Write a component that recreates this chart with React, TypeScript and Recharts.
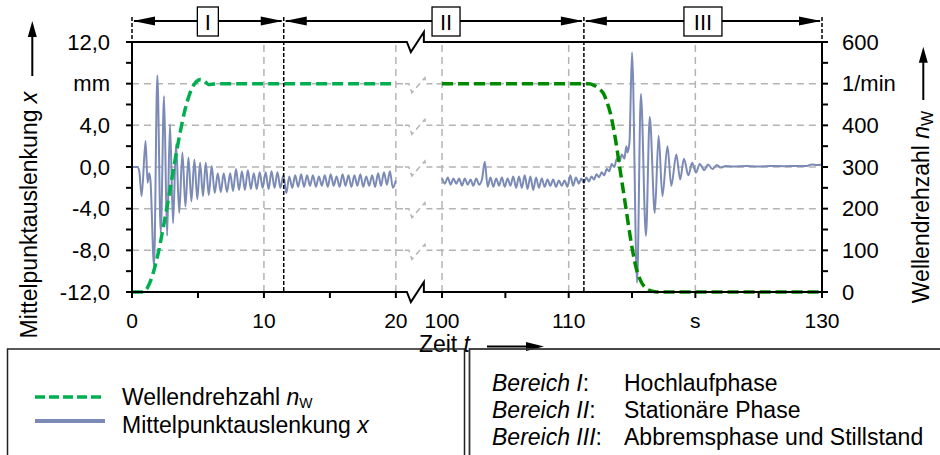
import React from "react";
import { ComposedChart, Line, XAxis, YAxis, ReferenceLine } from "recharts";

const FONT = "Arial, 'Liberation Sans', sans-serif";
const BLUE = "#7b8bb6";
const GREEN_1 = "#00b050";
const GREEN_2 = "#008a00";
const GRID = "#b4b4b4";

// broken time axis: 0..20 s, then 100..130 s
const BREAK_FROM = 20;
const BREAK_TO = 100;
const GAP_U = 3.5;
const SEG2_K = 0.96;
const toU = (t: number) => (t <= BREAK_FROM ? t : BREAK_FROM + GAP_U + (t - BREAK_TO) * SEG2_K);
const U_MAX = toU(130);

// Wellendrehzahl n_W in 1/min
const N1_T = [0, 0.8, 1.2, 1.6, 2.0, 2.4, 2.8, 3.2, 3.6, 4.0, 4.4, 4.8, 5.2, 5.5, 5.8, 6.2, 6.8, 20];
const N1_V = [0, 0, 12, 45, 95, 160, 230, 305, 375, 435, 478, 502, 510, 506, 498, 499, 500, 500];
const N2_T = [100, 111.6, 112.0, 112.4, 112.75, 113.0, 113.3, 113.7, 114.1, 114.5, 114.9, 115.3, 115.65, 116.1, 116.6, 117.0, 130];
const N2_V = [500, 500, 496, 488, 476, 458, 428, 365, 285, 205, 125, 61, 29, 9, 2, 0, 0];

// Mittelpunktauslenkung x in mm – run-up transient
const X1_T = [0, 0.4, 0.55, 0.73, 1.03, 1.18, 1.3, 1.4, 1.67, 1.92, 2.18, 2.43, 2.66, 2.88, 3.11, 3.34, 3.58, 3.82, 4.05, 4.28, 4.5, 4.73, 4.95, 5.16, 5.38, 5.59, 5.82, 6.04, 6.27, 6.5, 6.73, 6.95, 7.2, 7.44];
const X1_V = [0, 0, -0.4, -2.8, 2.5, -1.5, -0.6, -1.3, -9.5, 8.8, -6.3, 6.8, -6.6, 4.1, -5.4, 2.2, -4.4, 1.4, -3.8, 0.9, -3.3, 0.7, -3.1, 0.4, -2.8, 0.4, -2.7, 0.1, -2.5, -0.6, -2.4, -0.6, -2.4, -0.6];
// steady oscillation, sampled at every half period
const X1_STEADY_T0 = 7.66;
const X1_STEADY_DT = 0.2243;
const X1_STEADY = [
  -2.3, -0.2, -2.2, -0.4, -2.2, -0.3, -2.1, -0.6, -2.1, -0.5,
  -2.0, -0.5, -2.1, -0.4, -2.0, -0.5, -2.0, -0.8, -2.5, -0.9,
  -2.0, -0.8, -1.9, -0.7, -1.9, -0.8, -1.8, -0.8, -1.9, -0.9,
  -1.8, -0.8, -1.9, -0.7, -1.8, -0.9, -1.9, -0.7, -1.8, -0.8,
  -1.9, -0.8, -1.8, -0.7, -1.9, -0.9, -1.8, -0.8, -1.9, -0.6,
  -1.8, -0.5, -1.7, -0.4, -2.0, -1.3,
];
const X2_STEADY_T0 = 100;
const X2_STEADY_DT = 0.225;
const X2_STEADY = [
  -1.1, -1.6, -1.0, -1.7, -1.1, -1.6, -1.1, -1.8, -1.1, -1.7,
  -1.2, -1.8, -1.1, -1.7, -1.2, 0.5, -1.9, -1.0, -1.9, -1.1,
  -1.8, -1.0, -1.9, -1.1, -1.8, -0.9, -2.0, -0.9, -2.0, -0.8,
  -2.1, -0.9, -2.2, -1.0, -2.0, -1.1, -1.9, -1.2, -1.8, -1.2,
  -1.9, -1.3, -1.8, -1.3, -1.9, -0.8, -1.8, -1.0, -1.6,
];
// braking transient and standstill
const X3_T = [111.0, 111.2, 111.4, 111.6, 111.8, 112.0, 112.2, 112.4, 112.6, 112.8, 113.0, 113.2, 113.4, 113.6, 113.8, 114.0, 114.2, 114.4, 114.55, 114.65, 114.8, 115.0, 115.4, 115.7, 116.1, 116.4, 116.8, 117.1, 117.4, 117.8, 118.1, 118.5, 118.8, 119.1, 119.45, 119.75, 120.05, 120.35, 120.7, 121.0, 121.35, 121.7, 122.0, 122.4, 123.0, 124.0, 125.0, 126.0, 127.0, 128.0, 128.8, 129.2, 129.6, 130.0];
const X3_V = [-1.1, -1.5, -1.0, -1.4, -0.9, -1.2, -0.7, -1.0, -0.5, -0.8, -0.2, -0.4, 0.3, 0.0, 0.8, 0.5, 1.2, 0.8, 2.0, 1.4, 2.4, 11.0, -11.1, 7.0, -6.6, 4.8, -4.4, 3.0, -2.8, 2.0, -1.8, 1.2, -1.2, 0.8, -0.8, 0.4, -0.55, 0.3, -0.3, 0.25, -0.2, 0.2, -0.05, 0.1, 0.05, 0.1, 0.05, 0.1, 0.08, 0.1, 0.1, 0.25, 0.2, 0.25];

const X_TICKS_T = [0, 5, 10, 15, 20, 100, 105, 110, 115, 120, 125, 130];
const X_TICK_LABELS = ["0", "", "10", "", "20", "100", "", "110", "", "s", "", "130"];
const Y_LEFT_TICKS = [-12, -10, -8, -6, -4, -2, 0, 2, 4, 6, 8, 10, 12];
const Y_LEFT_LABELS = ["-12,0", "", "-8,0", "", "-4,0", "", "0,0", "", "4,0", "", "mm", "", "12,0"];
const Y_RIGHT_TICKS = [0, 50, 100, 150, 200, 250, 300, 350, 400, 450, 500, 550, 600];
const Y_RIGHT_LABELS = ["0", "", "100", "", "200", "", "300", "", "400", "", "1/min", "", "600"];
const GRID_X_T = [10, 20, 100, 110, 120];
const GRID_Y = [8, 4, 0, -4, -8];

const PHASE_T = [0, 11.5, 111.2, 130];
const PHASE_LABELS = ["I", "II", "III"];
const PHASE_NAMES = ["Bereich I", "Bereich II", "Bereich III"];
const PHASE_DESC = ["Hochlaufphase", "Stationäre Phase", "Abbremsphase und Stillstand"];

const n1Data = N1_T.map((t, i) => ({ u: toU(t), n: N1_V[i] }));
const n2Data = N2_T.map((t, i) => ({ u: toU(t), n: N2_V[i] }));
const x1Data = [
  ...X1_T.map((t, i) => ({ u: toU(t), x: X1_V[i] })),
  ...X1_STEADY.map((v, i) => ({ u: toU(X1_STEADY_T0 + i * X1_STEADY_DT), x: v })),
];
const x2Data = [
  ...X2_STEADY.map((v, i) => ({ u: toU(X2_STEADY_T0 + i * X2_STEADY_DT), x: v })),
  ...X3_T.map((t, i) => ({ u: toU(t), x: X3_V[i] })),
];

// layout
const W = 940;
const X_AXIS_H = 50;
const PLOT_LEFT = 132;
const PLOT_TOP = 42;
const PLOT_W = 690;
const PLOT_H = 250;
const BOTTOM = PLOT_TOP + PLOT_H;
const RIGHT = PLOT_LEFT + PLOT_W;
const CHART_H = BOTTOM + X_AXIS_H;
const px = (t: number) => PLOT_LEFT + (toU(t) / U_MAX) * PLOT_W;
const py = (v: number) => PLOT_TOP + ((12 - v) / 24) * PLOT_H;
const uAt = (x: number) => ((x - PLOT_LEFT) / PLOT_W) * U_MAX;
const BRK = px(BREAK_FROM) + 11;

const tickStyle = { fill: "#000", fontSize: 22, fontFamily: FONT };
const axisStroke = { stroke: "#000", strokeWidth: 2 };

function Decorations() {
  const axisBreak = (y: number) =>
    `M${PLOT_LEFT - 1},${y} H${BRK} L${BRK + 4},${y + 10} L${BRK + 17},${y - 10} L${BRK + 17},${y} H${RIGHT + 1}`;
  const gridBreak = (y: number) =>
    `M${BRK - 2},${y} H${BRK + 2} L${BRK + 5},${y + 9} L${BRK + 18},${y - 6} L${BRK + 19},${y} H${BRK + 30}`;
  const arrowY = 21;
  const head = (x: number, dir: number) =>
    `${x},${arrowY} ${x - dir * 22},${arrowY - 4.5} ${x - dir * 22},${arrowY + 4.5}`;
  const bx = PHASE_T.map(px);
  const boxCenters = [(bx[0] + bx[1]) / 2, px(BREAK_TO) + 4, (bx[2] + bx[3]) / 2];
  const boxWidths = [21, 28, 38];
  return (
    <svg width={W} height={455} style={{ position: "absolute", left: 0, top: 0, pointerEvents: "none" }} fontFamily={FONT}>
      <path d={axisBreak(PLOT_TOP)} fill="none" stroke="#000" strokeWidth={2} />
      <path d={axisBreak(BOTTOM)} fill="none" stroke="#000" strokeWidth={2} />
      {GRID_Y.map((v) => (
        <path key={v} d={gridBreak(py(v))} fill="none" stroke={GRID} strokeWidth={1.5} strokeDasharray="6 4" />
      ))}

      {bx.map((x, i) => (
        <line key={i} x1={x} x2={x} y1={17} y2={i === 0 || i === 3 ? PLOT_TOP : BOTTOM}
          stroke="#000" strokeWidth={1.5} strokeDasharray="4 2" />
      ))}
      {PHASE_LABELS.map((lab, i) => (
        <g key={lab}>
          <line x1={bx[i] + 2} x2={bx[i + 1] - 2} y1={arrowY} y2={arrowY} stroke="#000" strokeWidth={2} />
          <polygon points={head(bx[i] + 1, -1)} fill="#000" />
          <polygon points={head(bx[i + 1] - 1, 1)} fill="#000" />
          <rect x={boxCenters[i] - boxWidths[i] / 2} y={7} width={boxWidths[i]} height={29} fill="#fff" stroke="#000" strokeWidth={1.3} />
          <text x={boxCenters[i]} y={29.5} textAnchor="middle" fontSize={22}>{lab}</text>
        </g>
      ))}

      <text transform="translate(37,215) rotate(-90)" textAnchor="middle" fontSize={23}>
        Mittelpunktauslenkung <tspan fontStyle="italic">x</tspan>
      </text>
      <line x1={32.3} x2={32.3} y1={76} y2={34} stroke="#000" strokeWidth={2} />
      <polygon points="32.3,21 27.8,37 36.8,37" fill="#000" />

      <text transform="translate(929,207) rotate(-90)" textAnchor="middle" fontSize={23}>
        Wellendrehzahl <tspan fontStyle="italic">n</tspan>
        <tspan dy={4} fontSize={16}>W</tspan>
      </text>
      <line x1={923.3} x2={923.3} y1={100} y2={60} stroke="#000" strokeWidth={2} />
      <polygon points="923.3,46.7 918.8,62.7 927.8,62.7" fill="#000" />

      <text x={470} y={352} textAnchor="end" fontSize={23}>
        Zeit <tspan fontStyle="italic">t</tspan>
      </text>
      <line x1={487} x2={528} y1={346.5} y2={346.5} stroke="#000" strokeWidth={2} />
      <polygon points="544,346.5 526,342 526,351" fill="#000" />

      <rect x={7.5} y={349} width={457} height={120} fill="none" stroke="#222" strokeWidth={1.5} />
      <rect x={469.5} y={349} width={475} height={120} fill="none" stroke="#333" strokeWidth={1.8} />

      <line x1={35} x2={105} y1={397} y2={397} stroke={GREEN_1} strokeWidth={3.5} strokeDasharray="10 4" />
      <text x={122} y={405} fontSize={23}>
        Wellendrehzahl <tspan fontStyle="italic">n</tspan>
        <tspan dy={3} fontSize={14}>W</tspan>
      </text>
      <line x1={35} x2={105} y1={421} y2={421} stroke={BLUE} strokeWidth={4} />
      <text x={122} y={433} fontSize={23}>
        Mittelpunktauslenkung <tspan fontStyle="italic">x</tspan>
      </text>

      {PHASE_NAMES.map((name, i) => (
        <g key={name}>
          <text x={492} y={391 + i * 27} fontSize={23}>
            <tspan fontStyle="italic">{name}</tspan>:
          </text>
          <text x={624} y={391 + i * 27} fontSize={23}>{PHASE_DESC[i]}</text>
        </g>
      ))}
    </svg>
  );
}

export default function App() {
  const seg1End = uAt(BRK - 2);
  const seg2Start = uAt(BRK + 30);
  return (
    <div style={{ position: "absolute", left: 0, top: 0, width: W, height: 455, background: "#fff", fontFamily: FONT }}>
      <ComposedChart width={W} height={CHART_H} margin={{ top: PLOT_TOP, right: 0, bottom: 0, left: 0 }}>
        <XAxis
          type="number"
          dataKey="u"
          domain={[0, U_MAX]}
          allowDataOverflow
          ticks={X_TICKS_T.map(toU)}
          interval={0}
          tickFormatter={(v: number) => X_TICK_LABELS[X_TICKS_T.findIndex((t) => Math.abs(toU(t) - v) < 1e-6)] ?? ""}
          axisLine={false}
          tickLine={axisStroke}
          tickSize={6}
          tickMargin={15}
          height={X_AXIS_H}
          tick={{ ...tickStyle, fontSize: 21 }}
        />
        <YAxis
          yAxisId="x"
          type="number"
          domain={[-12, 12]}
          ticks={Y_LEFT_TICKS}
          interval={0}
          tickFormatter={(v: number) => Y_LEFT_LABELS[Y_LEFT_TICKS.indexOf(v)] ?? ""}
          width={PLOT_LEFT}
          axisLine={axisStroke}
          tickLine={axisStroke}
          tickSize={6}
          tickMargin={16}
          tick={tickStyle}
        />
        <YAxis
          yAxisId="n"
          orientation="right"
          type="number"
          domain={[0, 600]}
          ticks={Y_RIGHT_TICKS}
          interval={0}
          tickFormatter={(v: number) => Y_RIGHT_LABELS[Y_RIGHT_TICKS.indexOf(v)] ?? ""}
          width={W - RIGHT}
          axisLine={axisStroke}
          tickLine={axisStroke}
          tickSize={6}
          tickMargin={14}
          tick={tickStyle}
        />
        {GRID_X_T.map((t) => (
          <ReferenceLine key={`gx${t}`} yAxisId="x" x={toU(t)} stroke={GRID} strokeWidth={1.5} strokeDasharray="7 5" />
        ))}
        {GRID_Y.map((v) => (
          <ReferenceLine key={`gy1${v}`} yAxisId="x" segment={[{ x: 0, y: v }, { x: seg1End, y: v }]}
            stroke={GRID} strokeWidth={1.5} strokeDasharray="7 5" />
        ))}
        {GRID_Y.map((v) => (
          <ReferenceLine key={`gy2${v}`} yAxisId="x" segment={[{ x: seg2Start, y: v }, { x: U_MAX, y: v }]}
            stroke={GRID} strokeWidth={1.5} strokeDasharray="7 5" />
        ))}
        <Line data={x1Data} yAxisId="x" dataKey="x" type="monotone" stroke={BLUE} strokeWidth={2} dot={false} activeDot={false} isAnimationActive={false} />
        <Line data={x2Data} yAxisId="x" dataKey="x" type="monotone" stroke={BLUE} strokeWidth={2} dot={false} activeDot={false} isAnimationActive={false} />
        <Line data={n1Data} yAxisId="n" dataKey="n" type="monotone" stroke={GREEN_1} strokeWidth={3.5} strokeDasharray="11 5" dot={false} activeDot={false} isAnimationActive={false} />
        <Line data={n2Data} yAxisId="n" dataKey="n" type="monotone" stroke={GREEN_2} strokeWidth={3.5} strokeDasharray="11 5" dot={false} activeDot={false} isAnimationActive={false} />
      </ComposedChart>
      <Decorations />
    </div>
  );
}
